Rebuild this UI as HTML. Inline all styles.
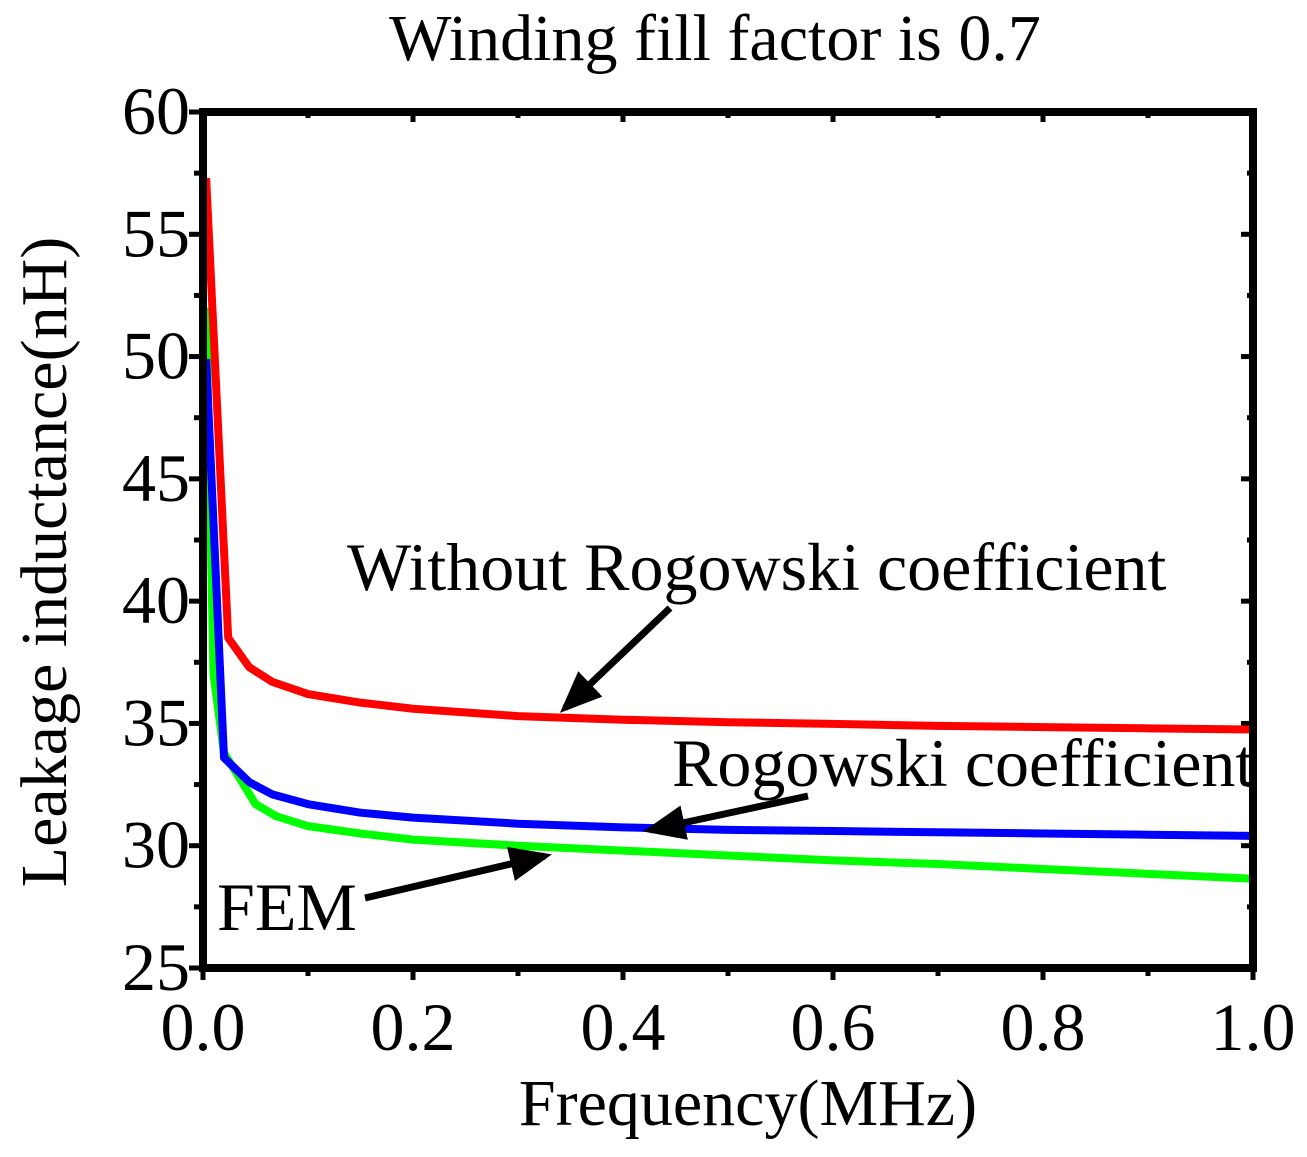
<!DOCTYPE html>
<html><head><meta charset="utf-8"><style>
html,body{margin:0;padding:0;background:#fff;}
svg{display:block;font-family:"Liberation Serif",serif;}
</style></head><body>
<svg id="chart" width="1307" height="1157" viewBox="0 0 1307 1157">
<text x="715" y="60" font-size="66" text-anchor="middle">Winding fill factor is 0.7</text>
<g id="ticks"></g>
<g id="series"></g>
<rect x="203" y="112" width="1050" height="856" fill="none" stroke="#000" stroke-width="8"/>
<text transform="translate(66,562) rotate(-90)" font-size="66" text-anchor="middle">Leakage inductance(nH)</text>
<text x="748" y="1125" font-size="66" text-anchor="middle">Frequency(MHz)</text>
<text x="347" y="590" font-size="68">Without  Rogowski coefficient</text>
<text x="672" y="786" font-size="68">Rogowski coefficient</text>
<text x="217" y="930" font-size="68">FEM</text>
<defs><marker id="ah" markerWidth="6" markerHeight="5" refX="5" refY="2.5" orient="auto" markerUnits="strokeWidth"><path d="M0,0 L6,2.5 L0,5 Z" fill="#000"/></marker></defs>
<line x1="670" y1="608" x2="565" y2="708" stroke="#000" stroke-width="7" marker-end="url(#ah)"/>
<line x1="808" y1="796" x2="650" y2="830" stroke="#000" stroke-width="7" marker-end="url(#ah)"/>
<line x1="365" y1="898" x2="545" y2="856" stroke="#000" stroke-width="7" marker-end="url(#ah)"/>
</svg>
<script>
const xTicks=[0,0.2,0.4,0.6,0.8,1.0];
const xTickLabels=["0.0","0.2","0.4","0.6","0.8","1.0"];
const yTicks=[25,30,35,40,45,50,55,60];
const freq=[0.003,0.024,0.044,0.066,0.1,0.15,0.2,0.3,0.4,0.5,0.6,0.7,0.8,0.9,1.0];
const redVals=[57.3,38.5,37.3,36.7,36.2,35.85,35.6,35.3,35.15,35.05,34.98,34.9,34.85,34.8,34.75];
const blueFreq=[0.003,0.02,0.044,0.066,0.1,0.15,0.2,0.3,0.4,0.5,0.6,0.7,0.8,0.9,1.0];
const blueVals=[49.9,33.6,32.6,32.1,31.7,31.35,31.15,30.9,30.75,30.65,30.6,30.55,30.5,30.45,30.4];
const greenFreq=[0.003,0.01,0.02,0.05,0.07,0.1,0.15,0.2,0.3,0.4,0.5,0.6,0.7,0.8,0.9,1.0];
const greenVals=[52,37,33.8,31.7,31.2,30.8,30.5,30.25,30.0,29.8,29.6,29.4,29.25,29.05,28.85,28.65];
const X=v=>203+v*1050, Y=v=>968-(v-25)*856/35;
const NS="http://www.w3.org/2000/svg";
const tg=document.getElementById('ticks'), sg=document.getElementById('series');
function mk(tag,attrs,parent){const e=document.createElementNS(NS,tag);for(const k in attrs)e.setAttribute(k,attrs[k]);parent.appendChild(e);return e;}
for(let i=0;i<=10;i++){const v=i/10,x=X(v),maj=i%2==0;
 let t=mk('line',{x1:x,x2:x,y1:968,y2:968+(maj?12:8),stroke:'#000','stroke-width':5},tg);
 
 
 let t2=mk('line',{x1:x,x2:x,y1:112,y2:112+(maj?10:6),stroke:'#000','stroke-width':5},tg);
 
 }
xTicks.forEach((v,i)=>{const t=mk('text',{x:X(v),y:1050,'font-size':68,'text-anchor':'middle'},tg);t.textContent=xTickLabels[i];
 
 });
for(let v=25;v<=60;v+=2.5){const y=Y(v),maj=v%5==0;
 let t=mk('line',{x1:203-(maj?14:9),x2:203,y1:y,y2:y,stroke:'#000','stroke-width':5},tg);
 
 
 let t2=mk('line',{x1:1253-(maj?12:6),x2:1253,y1:y,y2:y,stroke:'#000','stroke-width':5},tg);
 
 }
yTicks.forEach(v=>{const t=mk('text',{x:190,y:Y(v)+22,'font-size':68,'text-anchor':'end'},tg);t.textContent=v;
 
 });
function line(xs,ys,color,name){const p=mk('polyline',{points:xs.map((x,i)=>X(x)+','+Y(ys[i])).join(' '),fill:'none',stroke:color,'stroke-width':8,'stroke-linejoin':'round'},sg);
 
 }
line(greenFreq,greenVals,'#00ff00','series-fem');
line(blueFreq,blueVals,'#0000ff','series-rogowski');
line(freq,redVals,'#ff0000','series-without-rogowski');
</script>
</body></html>
